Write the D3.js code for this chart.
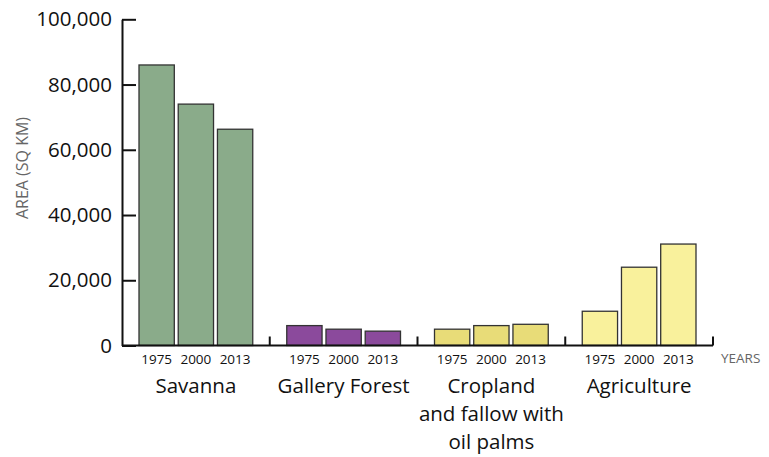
<!DOCTYPE html>
<html><head><meta charset="utf-8">
<script src="https://cdn.jsdelivr.net/npm/d3@7"></script>
<style>body{margin:0;background:#fff}svg{display:block}</style>
</head><body>
<svg id="c" width="769" height="457"></svg>
<script>
const categories = ["Savanna", "Gallery Forest", "Cropland", "Agriculture"];
const categoryLabels = [["Savanna"], ["Gallery Forest"], ["Cropland", "and fallow with", "oil palms"], ["Agriculture"]];
const years = ["1975", "2000", "2013"];
const savanna = [86000, 74000, 66300];
const galleryForest = [6100, 5000, 4400];
const cropland = [5000, 6100, 6500];
const agriculture = [10500, 24000, 31100];
const colors = ["#8aab8a", "#8b4a9c", "#e8dc78", "#f9f19c"];
const yTicks = [0, 20000, 40000, 60000, 80000, 100000];

const values = [savanna, galleryForest, cropland, agriculture];
const font = "'Open Sans', sans-serif";
const svg = d3.select("#c");

const x0 = 122, x1 = 713, yBase = 345.5, yTop = 19.3;
const xg = d3.scaleBand().domain(categories).range([x0, x1]);
const xb = d3.scaleBand().domain(years).range([17, xg.bandwidth() - 17]).paddingInner(0.1);
const y = d3.scaleLinear().domain([0, 100000]).range([yBase, yTop]);

// bars
categories.forEach((c, i) => {
  const g = svg.append("g").attr("transform", `translate(${xg(c)},0)`);
  g.selectAll("rect").data(years).join("rect")
    .attr("x", d => xb(d))
    .attr("y", (d, j) => y(values[i][j]))
    .attr("width", xb.bandwidth())
    .attr("height", (d, j) => y(0) - y(values[i][j]))
    .attr("fill", colors[i])
    .attr("stroke", "#333")
    .attr("stroke-width", 1.3);
  g.selectAll("text.yr").data(years).join("text")
    .attr("class", "yr")
    .attr("x", d => xb(d) + xb.bandwidth() / 2)
    .attr("y", 364)
    .attr("text-anchor", "middle")
    .attr("font-family", font).attr("font-size", 13.5).attr("fill", "#111")
    .text(d => d);
  g.selectAll("text.cat").data(categoryLabels[i]).join("text")
    .attr("class", "cat")
    .attr("x", xg.bandwidth() / 2)
    .attr("y", (d, k) => 393 + k * 28)
    .attr("text-anchor", "middle")
    .attr("font-family", font).attr("font-size", 20.5).attr("fill", "#111")
    .text(d => d);
  // separator tick on right
  g.append("line")
    .attr("x1", xg.bandwidth()).attr("x2", xg.bandwidth())
    .attr("y1", yBase).attr("y2", yBase - 9)
    .attr("stroke", "#111").attr("stroke-width", 2);
});

// baseline
svg.append("line").attr("x1", x0).attr("x2", x1)
  .attr("y1", yBase).attr("y2", yBase)
  .attr("stroke", "#111").attr("stroke-width", 2);

// y axis
const ax = svg.append("g").attr("transform", `translate(${x0},0)`)
  .call(d3.axisLeft(y).tickValues(yTicks).tickSizeInner(-14).tickSizeOuter(0).tickPadding(10)
    .tickFormat(d3.format(",")));
ax.select(".domain").attr("stroke", "#111").attr("stroke-width", 2);
ax.selectAll(".tick line").attr("stroke", "#111").attr("stroke-width", 2);
ax.selectAll(".tick text").attr("font-family", font).attr("font-size", 20.5).attr("fill", "#111");

// axis titles
svg.append("text")
  .attr("transform", `translate(28,168) rotate(-90)`)
  .attr("text-anchor", "middle")
  .attr("font-family", font).attr("font-size", 16).attr("fill", "#666")
  .text("AREA (SQ KM)");
svg.append("text")
  .attr("x", 721).attr("y", 363)
  .attr("font-family", font).attr("font-size", 13.5).attr("fill", "#666")
  .text("YEARS");
</script>
</body></html>
